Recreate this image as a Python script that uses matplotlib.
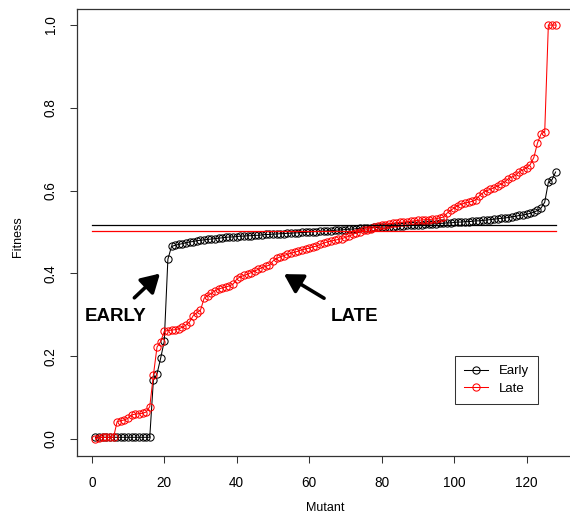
import matplotlib
matplotlib.use("Agg")
import matplotlib.pyplot as plt
from matplotlib.patches import FancyArrowPatch

plt.rcParams['font.family'] = ['Liberation Sans', 'DejaVu Sans']

mutant = list(range(1, 129))

early = [0.004, 0.004, 0.004, 0.004, 0.004, 0.004, 0.004, 0.004, 0.004, 0.004,
         0.004, 0.004, 0.004, 0.004, 0.004, 0.004,
         0.142, 0.157, 0.195, 0.236, 0.434, 0.465, 0.468, 0.470, 0.472, 0.474,
         0.476, 0.477, 0.479, 0.480, 0.481, 0.482, 0.483, 0.484, 0.485, 0.486,
         0.487, 0.488, 0.488, 0.489, 0.490, 0.490, 0.491, 0.491, 0.492, 0.492,
         0.493, 0.494, 0.494, 0.495, 0.495, 0.496, 0.496, 0.497, 0.497, 0.498,
         0.498, 0.499, 0.499, 0.500, 0.501, 0.501, 0.502, 0.502, 0.503, 0.503,
         0.504, 0.505, 0.505, 0.506, 0.507, 0.507, 0.508, 0.509, 0.509, 0.510,
         0.510, 0.511, 0.511, 0.512, 0.512, 0.513, 0.513, 0.514, 0.515, 0.515,
         0.516, 0.516, 0.517, 0.518, 0.518, 0.519, 0.519, 0.520, 0.520, 0.521,
         0.521, 0.522, 0.522, 0.523, 0.524, 0.524, 0.525, 0.525, 0.526, 0.527,
         0.527, 0.528, 0.529, 0.530, 0.531, 0.532, 0.533, 0.534, 0.535, 0.537,
         0.538, 0.540, 0.541, 0.543, 0.545, 0.548, 0.552, 0.558, 0.572, 0.620,
         0.626, 0.645]

late = [0.000, 0.003, 0.004, 0.004, 0.004, 0.004, 0.042, 0.044, 0.046, 0.050,
        0.058, 0.060, 0.061, 0.062, 0.065, 0.078, 0.154, 0.222, 0.235, 0.260,
        0.262, 0.263, 0.264, 0.266, 0.270, 0.275, 0.283, 0.298, 0.305, 0.311,
        0.340, 0.346, 0.352, 0.358, 0.362, 0.365, 0.367, 0.370, 0.374, 0.386,
        0.392, 0.395, 0.398, 0.402, 0.406, 0.410, 0.414, 0.417, 0.420, 0.430,
        0.436, 0.440, 0.443, 0.446, 0.449, 0.451, 0.454, 0.457, 0.459, 0.461,
        0.464, 0.466, 0.470, 0.473, 0.476, 0.478, 0.480, 0.482, 0.484, 0.487,
        0.490, 0.494, 0.498, 0.501, 0.504, 0.506, 0.508, 0.511, 0.514, 0.516,
        0.518, 0.520, 0.521, 0.522, 0.523, 0.524, 0.525, 0.526, 0.527, 0.528,
        0.529, 0.530, 0.530, 0.531, 0.532, 0.534, 0.536, 0.545, 0.552, 0.558,
        0.564, 0.567, 0.570, 0.572, 0.574, 0.578, 0.588, 0.595, 0.600, 0.603,
        0.607, 0.611, 0.616, 0.621, 0.629, 0.633, 0.637, 0.646, 0.650, 0.655,
        0.663, 0.680, 0.715, 0.737, 0.742, 1.000, 1.000, 1.000]

early_ref = 0.516
late_ref = 0.502
ref_span = [0, 128]

xticks = [0, 20, 40, 60, 80, 100, 120]
yticks = [0.0, 0.2, 0.4, 0.6, 0.8, 1.0]
ytick_labels = ["0.0", "0.2", "0.4", "0.6", "0.8", "1.0"]

fig = plt.figure(figsize=(5.7, 5.22), dpi=100)
ax = fig.add_axes([77 / 570, (522 - 455.5) / 522, 497 / 570, 447 / 522])

ax.plot(mutant, early, color='black', lw=0.75, marker='o', markersize=5.2,
        markerfacecolor='none', markeredgewidth=0.75, label='Early')
ax.plot(mutant, late, color='red', lw=0.75, marker='o', markersize=5.2,
        markerfacecolor='none', markeredgewidth=0.75, label='Late')
ax.plot(ref_span, [early_ref, early_ref], color='black', lw=0.9)
ax.plot(ref_span, [late_ref, late_ref], color='red', lw=0.9)

ax.set_xlim(-4.08, 133.08)
ax.set_ylim(-0.04, 1.04)
ax.set_xticks(xticks)
ax.set_xticklabels([str(t) for t in xticks])
ax.set_yticks(yticks)
ax.set_yticklabels(ytick_labels, rotation=90, va='center')
ax.tick_params(direction='out', length=5, width=0.75, labelsize=9.8, color='#333333')
ax.tick_params(axis='x', pad=9.5)
ax.tick_params(axis='y', pad=9)
for s in ax.spines.values():
    s.set_linewidth(0.9)
    s.set_color('#333333')

ax.set_xlabel('Mutant', fontsize=9)
ax.set_ylabel('Fitness', fontsize=9)
ax.xaxis.set_label_coords(0.499, -0.104)
ax.yaxis.set_label_coords(-0.107, 0.49)

ax.text(6.7, 0.297, 'EARLY', fontsize=13.5, fontweight='bold', ha='center', va='center')
ax.text(72.4, 0.296, 'LATE', fontsize=13.5, fontweight='bold', ha='center', va='center')

for tail, tip in [((11.75, 0.341), (19.1, 0.402)), ((64.1, 0.340), (52.7, 0.400))]:
    ax.add_patch(FancyArrowPatch(tail, tip, arrowstyle='-|>,head_length=0.55,head_width=0.32',
                                 mutation_scale=20, lw=2.6, color='black',
                                 shrinkA=0, shrinkB=1))

leg = ax.legend(loc='upper left', bbox_to_anchor=(455 / 570, 1 - 356 / 522),
                bbox_transform=fig.transFigure, borderaxespad=0, fancybox=False,
                edgecolor='black', fontsize=9.5, handlelength=1.8,
                handletextpad=0.8, borderpad=0.7, labelspacing=0.4)
leg.get_frame().set_linewidth(0.75)

fig.savefig('out.png', dpi=100)
